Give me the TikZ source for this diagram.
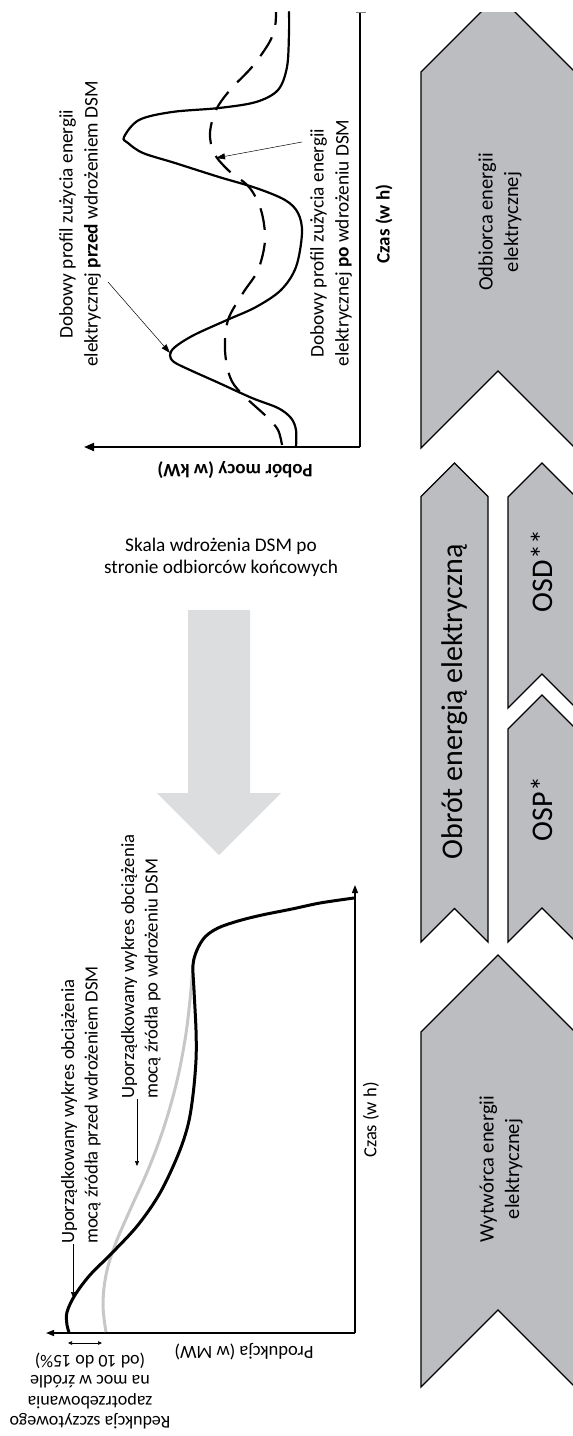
\documentclass[tikz,border=0pt]{standalone}
\usepackage{fontspec}
\setmainfont{Carlito}
\usetikzlibrary{arrows.meta}
\definecolor{chev}{HTML}{BCBDC0}
\definecolor{bigarrow}{HTML}{DCDDDF}
\definecolor{aftergray}{HTML}{C6C7C9}
\begin{document}
\begin{tikzpicture}[x=1pt,y=-1pt,
  chevron/.style={fill=chev,draw=black,line width=1.3pt,line join=miter},
  axisline/.style={draw=black,line width=2pt},
  axisthin/.style={draw=black,line width=1.4pt},
  txt/.style={inner sep=0pt,align=center,font=\fontsize{19}{24}\selectfont},
  txtl/.style={inner sep=0pt,align=left,font=\fontsize{18.7}{23.5}\selectfont},
  chevtxt/.style={inner sep=0pt,align=center,font=\fontsize{20.5}{25.5}\selectfont},
  bigtxt/.style={inner sep=0pt,align=center,font=\fontsize{30}{34}\selectfont},
  leader/.style={draw=black,line width=0.5pt,-{Triangle[length=9pt,width=6pt]}},
  leadersmall/.style={draw=black,line width=0.6pt,-{Triangle[length=5pt,width=4pt]}},
  profile/.style={line width=2.2pt,line cap=round},
]
\useasboundingbox (0,0) rectangle (573,1436);

% ---------- chevrons ----------
\begin{scope}
\clip (0,12) rectangle (600,1436);
\draw[chevron] (421,72) -- (498,-5) -- (575,72) -- (575,448) -- (498,371) -- (421,448) -- cycle;
\end{scope}
\draw[chevron] (421,496.5) -- (454.5,463) -- (488,496.5) -- (488,942) -- (454.5,908.5) -- (421,942) -- cycle;
\draw[chevron] (508,497) -- (542,463) -- (576,497) -- (576,708) -- (542,674) -- (508,708) -- cycle;
\draw[chevron] (508,729) -- (542,695) -- (576,729) -- (576,942) -- (542,908) -- (508,942) -- cycle;
\draw[chevron] (421,1032) -- (498,955) -- (575,1032) -- (575,1387) -- (498,1310) -- (421,1387) -- cycle;

\node[chevtxt,rotate=90] (odb) at (500,222) {Odbiorca energii\\elektrycznej};
\node[bigtxt,rotate=90] (obrot) at (455,702) {Obrót energią elektryczną};
\node[bigtxt,rotate=90] (osd) at (542,571) {OSD**};
\node[bigtxt,rotate=90] (osp) at (542,809) {OSP*};
\node[chevtxt,rotate=90] (wyt) at (501,1169) {Wytwórca energii\\elektrycznej};

% ---------- big arrow ----------
\fill[bigarrow] (188,610) -- (250,610) -- (250,793) -- (281,793) -- (219,855) -- (157,793) -- (188,793) -- cycle;
\node[txt,font=\fontsize{19.3}{22}\selectfont] (skala) at (221,557) {Skala wdrożenia DSM po\\stronie odbiorców końcowych};

% ---------- top chart ----------
\coordinate (o1) at (360,447);
\coordinate (t1) at (360,12);
\coordinate (p1) at (84,447);
\draw[axisline] (o1) -- (t1);
\draw[gray,line width=0.6pt] (356,12) -- (366,12);
\draw[axisline,-{Triangle[length=10pt,width=8pt]}] (o1) -- (p1);
\node[inner sep=0pt,rotate=90,font=\bfseries\fontsize{19}{23}\selectfont] (czas1) at (384,224) {Czas (w h)};
\node[inner sep=0pt,rotate=180,font=\bfseries\fontsize{19}{23}\selectfont] (pobor) at (235,470) {Pobór mocy (w kW)};

\draw[profile] plot[smooth,tension=0.55] coordinates {
(296,447) (296,430) (291,418) (278,408) (252,398) (219,383) (190,370) (174,362) (170,355) (175,347) (194,335) (227,320) (256,307) (281,290) (296,267) (302,233) (298,213) (285,200) (256,188) (219,177) (175,163) (143,153) (128,143) (124,137) (139,120) (172,112) (219,108) (256,102) (278,90) (287,67) (289,33) (289,12)};
\draw[profile,dash pattern=on 22pt off 13pt,line cap=butt] plot[smooth,tension=0.55] coordinates {
(282,445) (278,430) (267,417) (241,393) (230,377) (225,350) (228,320) (243,293) (258,270) (265,240) (261,210) (249,187) (228,170) (214,153) (210,133) (216,110) (230,90) (252,67) (269,43) (275,27) (276,12)};

\node[txt,rotate=90,font=\fontsize{19.3}{25}\selectfont] (ann1) at (80,224) {Dobowy profil zużycia energii\\elektrycznej \textbf{przed} wdrożeniem DSM};
\coordinate (a1s) at (108,282);
\coordinate (a1e) at (170,353);
\draw[leader] (a1s) -- (a1e);
\node[txt,rotate=90,font=\fontsize{19.3}{25}\selectfont] (ann2) at (331,243) {Dobowy profil zużycia energii\\elektrycznej \textbf{po} wdrożeniu DSM};
\coordinate (a2s) at (302,142);
\coordinate (a2e) at (216,158);
\draw[leader] (a2s) -- (a2e);

% ---------- bottom chart ----------
\coordinate (o2) at (355,1333);
\coordinate (t2) at (355,885);
\coordinate (p2) at (46,1333);
\draw[axisthin,-{Triangle[length=8pt,width=6pt]}] (o2) -- (t2);
\draw[axisthin,-{Triangle[length=8pt,width=6pt]}] (o2) -- (p2);
\node[inner sep=0pt,rotate=90,font=\fontsize{18.5}{23}\selectfont] (czas2) at (371,1120) {Czas (w h)};
\node[inner sep=0pt,rotate=180,font=\fontsize{18.5}{23}\selectfont] (prod) at (244,1352) {Produkcja (w MW)};
\node[inner sep=0pt,rotate=180,align=center,font=\fontsize{18}{20.5}\selectfont] (red) at (90,1391) {Redukcja szczytowego\\zapotrzebowania\\na moc w źródle\\(od 10 do 15\%)};
\coordinate (r1) at (68,1343);
\coordinate (r2) at (102,1343);
\draw[line width=0.6pt,{Triangle[length=4pt,width=3.5pt]}-{Triangle[length=4pt,width=3.5pt]}] (r1) -- (r2);

\draw[aftergray,line width=3pt] plot[smooth,tension=0.6] coordinates {
(106,1332) (103,1305) (106,1275) (115,1245) (130,1210) (148,1170) (163,1130) (176,1085) (185,1040) (190,1000) (193,965)};
\draw[black,line width=3pt] plot[smooth,tension=0.55] coordinates {
(354,898) (320,903) (292,909) (262,915) (238,921) (218,928) (205,937) (197,950) (193,965) (194,990) (196,1030) (196,1060) (193,1095) (188,1125) (178,1155) (160,1193) (138,1225) (112,1253) (90,1275) (75,1295) (67,1312) (67,1325) (69,1332)};

\node[txtl,rotate=90,anchor=west] (b1) at (81,1244) {Uporządkowany wykres obciążenia\\mocą źródła przed wdrożeniem DSM};
\coordinate (l1s) at (73,1244);
\coordinate (l1e) at (73,1297);
\draw[leadersmall] (l1s) -- (l1e);
\node[txtl,rotate=90,anchor=west] (b2) at (141,1099) {Uporządkowany wykres obciążenia\\mocą źródła po wdrożeniu DSM};
\coordinate (l2s) at (137,1099);
\coordinate (l2e) at (137,1166);
\draw[leadersmall] (l2s) -- (l2e);
\end{tikzpicture}
\end{document}
